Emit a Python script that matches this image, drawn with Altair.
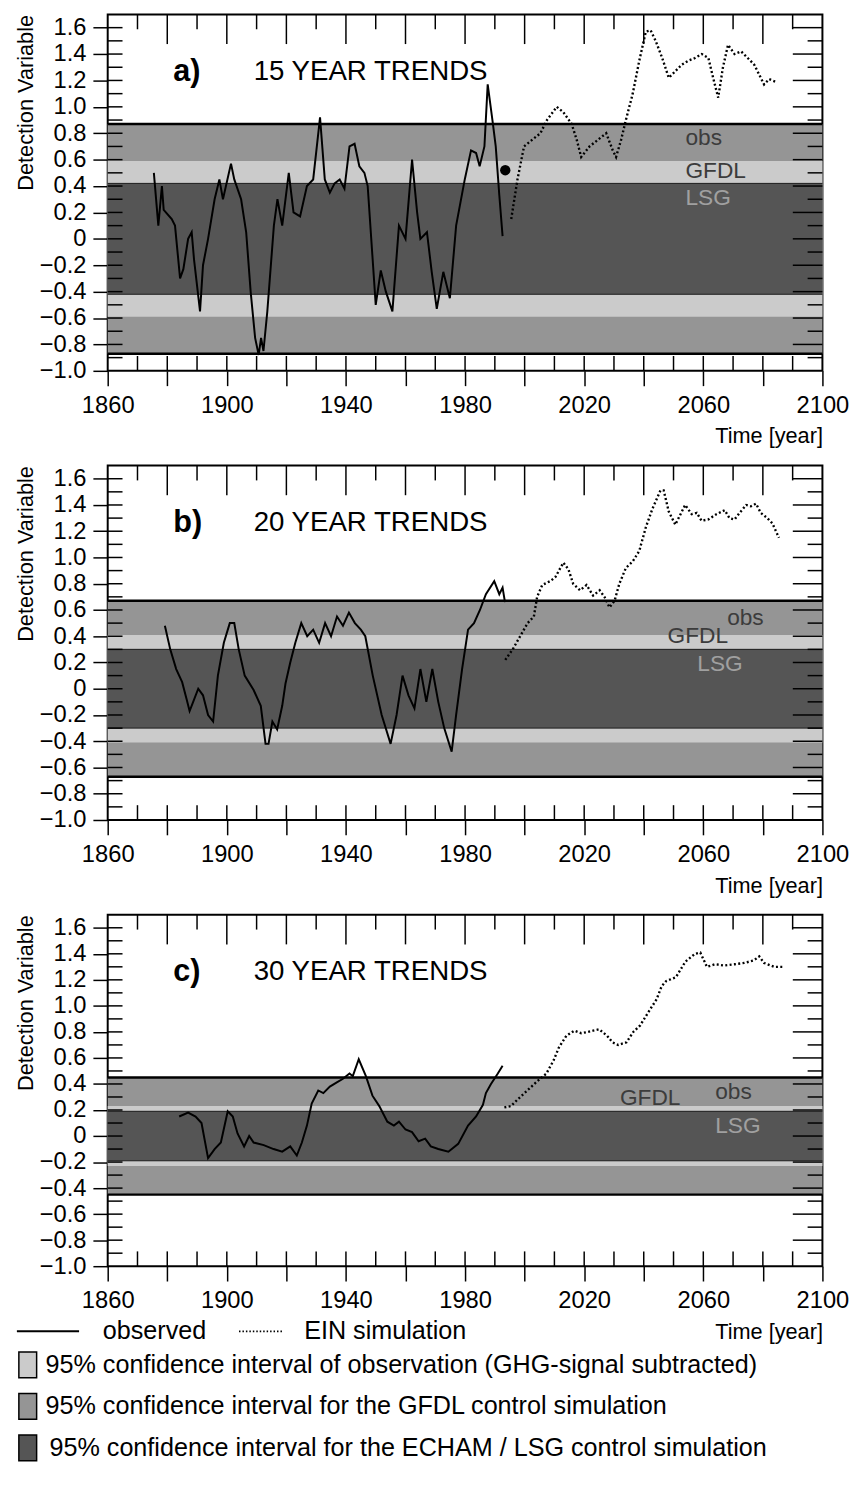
import altair as alt
import pandas as pd

FONT = "Liberation Sans"

# ---------------- data ----------------
A_OBS_YEAR = [1875.5, 1877.0, 1878.2, 1878.8, 1881.5, 1882.6, 1884.3, 1885.4, 1887.0, 1888.2,
              1889.0, 1891.0, 1892.0, 1893.7, 1895.9, 1897.5, 1898.7, 1901.4, 1902.5, 1904.8,
              1906.5, 1908.0, 1909.5, 1910.7, 1911.5, 1912.3, 1913.6, 1915.8, 1917.0, 1918.6,
              1920.8, 1922.4, 1924.6, 1926.9, 1929.0, 1931.3, 1932.9, 1934.6, 1936.2, 1937.9,
              1939.5, 1941.2, 1942.9, 1944.5, 1946.2, 1947.3, 1950.0, 1951.7, 1953.4, 1955.6,
              1957.8, 1960.0, 1962.2, 1963.9, 1965.0, 1967.2, 1968.8, 1970.5, 1972.7, 1974.9,
              1977.0, 1979.9, 1982.0, 1983.7, 1984.9, 1986.5, 1987.6, 1989.3, 1990.3, 1991.5,
              1992.6]
A_OBS_VAL = [0.50, 0.10, 0.40, 0.22, 0.15, 0.10, -0.30, -0.23, 0.00, 0.05,
             -0.16, -0.55, -0.20, 0.00, 0.30, 0.45, 0.30, 0.57, 0.45, 0.30,
             0.05, -0.40, -0.75, -0.88, -0.75, -0.85, -0.55, 0.10, 0.30, 0.10,
             0.50, 0.20, 0.17, 0.40, 0.45, 0.92, 0.45, 0.35, 0.42, 0.45,
             0.38, 0.70, 0.72, 0.55, 0.50, 0.40, -0.50, -0.24, -0.40, -0.55,
             0.10, 0.00, 0.60, 0.20, 0.00, 0.05, -0.25, -0.53, -0.25, -0.45,
             0.10, 0.45, 0.67, 0.65, 0.55, 0.70, 1.17, 0.88, 0.70, 0.33,
             0.02]
A_EIN_YEAR = [1995.5, 1997.6, 1999.8, 2002.5, 2005.3, 2007.5, 2010.8, 2013.0, 2015.8, 2017.5,
              2019.0, 2021.8, 2024.6, 2027.4, 2029.6, 2030.7, 2032.4, 2034.0, 2036.3, 2038.5,
              2040.7, 2042.3, 2044.0, 2046.2, 2048.4, 2050.6, 2052.8, 2055.0, 2057.2, 2059.5,
              2061.7, 2063.3, 2065.0, 2066.6, 2068.3, 2070.5, 2072.7, 2074.9, 2077.1, 2079.3,
              2080.4, 2082.1, 2084.3]
A_EIN_VAL = [0.15, 0.45, 0.70, 0.75, 0.80, 0.90, 1.00, 0.96, 0.87, 0.75,
             0.62, 0.70, 0.75, 0.80, 0.67, 0.62, 0.75, 0.90, 1.10, 1.35,
             1.57, 1.58, 1.50, 1.37, 1.22, 1.27, 1.32, 1.35, 1.37, 1.40,
             1.37, 1.22, 1.07, 1.30, 1.47, 1.40, 1.42, 1.37, 1.32, 1.22,
             1.17, 1.21, 1.19]
A_DOT_YEAR = [1993.5]
A_DOT_VAL = [0.52]

B_OBS_YEAR = [1879.2, 1881.0, 1883.0, 1885.0, 1886.5, 1887.5, 1888.7, 1890.4, 1892.0, 1893.7,
              1895.4, 1897.0, 1899.0, 1901.0, 1902.5, 1904.0, 1906.0, 1909.0, 1911.4, 1913.0,
              1914.0, 1915.3, 1916.9, 1918.6, 1919.7, 1921.3, 1923.0, 1925.0, 1927.0, 1929.0,
              1931.0, 1933.0, 1935.0, 1937.0, 1939.0, 1941.0, 1943.0, 1945.0, 1946.5, 1949.0,
              1952.0, 1955.0, 1957.0, 1959.0, 1961.0, 1963.0, 1965.0, 1967.0, 1969.0, 1971.0,
              1973.0, 1975.5, 1977.0, 1979.0, 1981.0, 1983.0, 1985.0, 1987.0, 1989.8, 1991.5,
              1992.6, 1993.4]
B_OBS_VAL = [0.48, 0.30, 0.15, 0.05, -0.08, -0.17, -0.10, 0.00, -0.05, -0.20,
             -0.25, 0.10, 0.35, 0.50, 0.50, 0.30, 0.10, -0.01, -0.13, -0.42,
             -0.42, -0.25, -0.31, -0.13, 0.04, 0.20, 0.35, 0.50, 0.40, 0.45,
             0.35, 0.50, 0.40, 0.55, 0.48, 0.58, 0.50, 0.45, 0.40, 0.10,
             -0.20, -0.42, -0.20, 0.10, -0.05, -0.15, 0.15, -0.10, 0.15, -0.10,
             -0.30, -0.48, -0.20, 0.15, 0.45, 0.50, 0.60, 0.72, 0.82, 0.72,
             0.77, 0.66]
B_EIN_YEAR = [1993.5, 1996.0, 1998.5, 2001.0, 2003.1, 2004.2, 2005.9, 2008.6, 2010.3, 2013.0,
              2014.7, 2016.3, 2018.6, 2020.8, 2023.0, 2025.2, 2026.8, 2028.5, 2030.2, 2031.8,
              2034.0, 2036.3, 2038.5, 2040.7, 2042.9, 2045.6, 2046.7, 2048.4, 2050.6, 2052.8,
              2053.9, 2056.1, 2057.8, 2059.4, 2061.7, 2064.4, 2067.2, 2068.8, 2070.5, 2072.2,
              2074.4, 2076.0, 2077.7, 2079.3, 2081.5, 2083.2, 2085.4]
B_EIN_VAL = [0.22, 0.30, 0.40, 0.50, 0.55, 0.70, 0.79, 0.82, 0.85, 0.96,
             0.91, 0.80, 0.75, 0.79, 0.71, 0.75, 0.70, 0.62, 0.67, 0.80,
             0.92, 0.97, 1.05, 1.23, 1.37, 1.51, 1.51, 1.35, 1.25, 1.35,
             1.40, 1.33, 1.34, 1.28, 1.29, 1.33, 1.36, 1.30, 1.29, 1.34,
             1.40, 1.39, 1.41, 1.34, 1.30, 1.26, 1.15]

C_OBS_YEAR = [1884.0, 1887.0, 1889.5, 1891.5, 1893.7, 1895.9, 1898.0, 1900.3, 1902.0, 1903.6,
              1905.8, 1907.5, 1909.0, 1912.4, 1915.7, 1918.6, 1921.3, 1923.5, 1925.2, 1926.9,
              1928.5, 1930.7, 1932.4, 1934.6, 1936.8, 1939.0, 1941.2, 1942.3, 1944.3, 1946.7,
              1948.9, 1951.2, 1953.9, 1956.1, 1957.8, 1960.0, 1962.2, 1964.4, 1966.6, 1968.5,
              1971.0, 1974.4, 1977.7, 1981.0, 1983.7, 1986.0, 1987.0, 1988.7, 1991.0, 1992.6]
C_OBS_VAL = [0.15, 0.18, 0.15, 0.10, -0.17, -0.10, -0.05, 0.19, 0.15, 0.02,
             -0.08, 0.00, -0.05, -0.07, -0.10, -0.12, -0.08, -0.15, -0.05, 0.08,
             0.25, 0.35, 0.33, 0.38, 0.41, 0.44, 0.48, 0.46, 0.59, 0.46,
             0.31, 0.23, 0.11, 0.08, 0.11, 0.05, 0.03, -0.04, -0.02, -0.08,
             -0.10, -0.12, -0.06, 0.08, 0.15, 0.24, 0.33, 0.40, 0.48, 0.54]
C_EIN_YEAR = [1993.2, 1995.4, 1997.6, 2000.9, 2004.2, 2007.3, 2009.7, 2011.5, 2014.0, 2016.7,
              2019.0, 2021.3, 2023.0, 2025.0, 2027.7, 2029.5, 2031.4, 2034.2, 2036.5, 2038.8,
              2041.5, 2044.3, 2046.0, 2047.5, 2050.8, 2054.0, 2057.2, 2059.0, 2061.2, 2064.0,
              2067.0, 2070.5, 2073.8, 2077.0, 2078.8, 2080.4, 2083.8, 2087.0]
C_EIN_VAL = [0.22, 0.23, 0.28, 0.35, 0.42, 0.48, 0.58, 0.68, 0.77, 0.81,
             0.79, 0.80, 0.81, 0.82, 0.77, 0.72, 0.70, 0.72, 0.80, 0.85,
             0.95, 1.05, 1.15, 1.19, 1.22, 1.34, 1.40, 1.41, 1.30, 1.32,
             1.31, 1.32, 1.33, 1.35, 1.38, 1.33, 1.30, 1.30]

# confidence bands (half widths): GFDL, obs, LSG
BAND_NAMES = ["GFDL", "obs", "LSG"]
BAND_COLORS = ["#959595", "#cbcbcb", "#555555"]
HALF_A = [0.87, 0.59, 0.42]
HALF_B = [0.67, 0.41, 0.30]
HALF_C = [0.45, 0.23, 0.19]

TAGS = ["a)", "b)", "c)"]
TITLES = ["15 YEAR TRENDS", "20 YEAR TRENDS", "30 YEAR TRENDS"]

# band label positions (year, value) per panel: obs, GFDL, LSG
LAB_TEXT = ["obs", "GFDL", "LSG"]
LAB_A = ([2054, 2054, 2054], [0.76, 0.51, 0.31])
LAB_B = ([2068, 2048, 2058], [0.54, 0.40, 0.19])
LAB_C = ([2064, 2032, 2064], [0.34, 0.29, 0.08])
LAB_COLORS = ["#3c3c3c", "#3c3c3c", "#a0a0a0"]

X_MAJOR = list(range(1860, 2101, 20))
X_TEN = list(range(1870, 2100, 10))
Y_MAJOR = [round(-1.0 + 0.2 * i, 1) for i in range(14)]
Y_TENTH = [round(-0.9 + 0.1 * i, 1) for i in range(26)]

LEGEND_LINES = ["observed", "EIN simulation"]
LEGEND_BOXES = ["95% confidence interval of observation (GHG-signal subtracted)",
                "95% confidence interval for the GFDL control simulation",
                "95% confidence interval for the ECHAM / LSG control simulation"]
LEGEND_BOX_COLORS = ["#cbcbcb", "#959595", "#555555"]

W = 724
XS = alt.Scale(domain=[1860, 2100], nice=False, zero=False)
YS = alt.Scale(domain=[-1.0, 1.7], nice=False, zero=False)

X_AXIS = alt.Axis(values=X_MAJOR, format="d",
                  labelExpr="datum.value % 40 == 20 ? datum.label : ''",
                  tickSize=15, tickWidth=1.5, tickColor="black", domain=False, grid=False,
                  labelFontSize=24, labelColor="black", labelPadding=8, labelFlush=False,
                  labelOverlap=False, title="Time [year]", titleFontSize=22,
                  titleFontWeight="normal", titleColor="black", titleAnchor="end",
                  titlePadding=9)
Y_AXIS = alt.Axis(values=Y_MAJOR,
                  labelExpr="datum.value == 0 ? '0' : format(datum.value, '.1f')",
                  tickSize=15, tickWidth=1.5, tickColor="black", domain=False, grid=False,
                  labelFontSize=24, labelColor="black", labelPadding=7, labelOverlap=False,
                  labelFlush=False,
                  title="Detection Variable", titleFontSize=22, titleFontWeight="normal",
                  titleColor="black", titlePadding=2, titleAnchor="end")


def X(f):
    return alt.X(f, type="quantitative", scale=XS, axis=X_AXIS)


def Y(f):
    return alt.Y(f, type="quantitative", scale=YS, axis=Y_AXIS)


def panel(H, half, obs_y, obs_v, ein_y, ein_v, tag, title, lab, extra=None):
    layers = []
    for col, h in zip(BAND_COLORS, half):
        df = pd.DataFrame({"lo": [-h], "hi": [h]})
        layers.append(alt.Chart(df).mark_rect(color=col).encode(
            x=alt.value(0), x2=alt.value(W), y=Y("lo"), y2=alt.Y2("hi")))
    edges = pd.DataFrame({"v": [half[0], -half[0]]})
    layers.append(alt.Chart(edges).mark_rule(color="black", strokeWidth=2.5).encode(
        y=Y("v"), x=alt.value(0), x2=alt.value(W)))
    edges2 = pd.DataFrame({"v": [half[2], -half[2]]})
    layers.append(alt.Chart(edges2).mark_rule(color="#1a1a1a", strokeWidth=1).encode(
        y=Y("v"), x=alt.value(0), x2=alt.value(W)))
    # band labels
    ldf = pd.DataFrame({"year": lab[0], "v": lab[1], "t": LAB_TEXT, "c": LAB_COLORS})
    layers.append(alt.Chart(ldf).mark_text(align="left", baseline="middle", fontSize=23).encode(
        x=X("year"), y=Y("v"), text="t:N", color=alt.Color("c:N", scale=None)))
    # lines
    odf = pd.DataFrame({"year": obs_y, "v": obs_v})
    layers.append(alt.Chart(odf).mark_line(color="black", strokeWidth=2).encode(
        x=X("year"), y=Y("v")))
    edf = pd.DataFrame({"year": ein_y, "v": ein_v})
    layers.append(alt.Chart(edf).mark_line(color="black", strokeWidth=2.4,
                                           strokeDash=[2, 2.4]).encode(x=X("year"), y=Y("v")))
    if extra is not None:
        layers.extend(extra)
    # titles
    tdf = pd.DataFrame({"year": [1882.0], "v": [1.26], "t": [tag]})
    layers.append(alt.Chart(tdf).mark_text(align="left", baseline="middle", fontSize=31,
                                           fontWeight="bold").encode(
        x=X("year"), y=Y("v"), text="t:N"))
    tdf2 = pd.DataFrame({"year": [1909.0], "v": [1.26], "t": [title]})
    layers.append(alt.Chart(tdf2).mark_text(align="left", baseline="middle", fontSize=28).encode(
        x=X("year"), y=Y("v"), text="t:N"))
    # inward ticks
    top_long = pd.DataFrame({"year": [y for y in X_TEN if y % 20 == 0]})
    top_short = pd.DataFrame({"year": [y for y in X_TEN if y % 20 == 10]})
    layers.append(alt.Chart(top_long).mark_rule(color="black", strokeWidth=1.5).encode(
        x=X("year"), y=alt.value(0), y2=alt.value(30)))
    layers.append(alt.Chart(top_short).mark_rule(color="black", strokeWidth=1.5).encode(
        x=X("year"), y=alt.value(0), y2=alt.value(15)))
    bot = pd.DataFrame({"year": X_TEN})
    layers.append(alt.Chart(bot).mark_rule(color="black", strokeWidth=1.5).encode(
        x=X("year"), y=alt.value(H), y2=alt.value(H - 15)))
    left = pd.DataFrame({"v": Y_TENTH})
    layers.append(alt.Chart(left).mark_rule(color="black", strokeWidth=1.5).encode(
        y=Y("v"), x=alt.value(0), x2=alt.value(15)))
    r_long = pd.DataFrame({"v": [v for v in Y_TENTH if round(v * 10) % 2 == 0]})
    r_short = pd.DataFrame({"v": [v for v in Y_TENTH if round(v * 10) % 2 != 0]})
    layers.append(alt.Chart(r_long).mark_rule(color="black", strokeWidth=1.5).encode(
        y=Y("v"), x=alt.value(W - 30), x2=alt.value(W)))
    layers.append(alt.Chart(r_short).mark_rule(color="black", strokeWidth=1.5).encode(
        y=Y("v"), x=alt.value(W - 15), x2=alt.value(W)))
    return alt.layer(*layers).properties(width=W, height=H)


# extra: marker in panel a
dot = alt.Chart(pd.DataFrame({"year": A_DOT_YEAR, "v": A_DOT_VAL})).mark_circle(
    color="black", size=110, opacity=1).encode(x=X("year"), y=Y("v"))

# legend drawn under panel c (pixel positions relative to panel c plot origin)
PC_TOP = 913
OX = 105


def lg_line(x0, x1, yy, dash=None):
    kw = dict(color="black", strokeWidth=2)
    if dash:
        kw["strokeDash"] = dash
        kw["strokeWidth"] = 1.6
    return alt.Chart(pd.DataFrame({"k": [0]})).mark_rule(**kw).encode(
        x=alt.value(x0 - OX), x2=alt.value(x1 - OX), y=alt.value(yy - PC_TOP))


def lg_text(x0, yy, t):
    return alt.Chart(pd.DataFrame({"t": [t]})).mark_text(
        align="left", baseline="middle", fontSize=25.5, color="black").encode(
        x=alt.value(x0 - OX), y=alt.value(yy - PC_TOP), text="t:N")


def lg_box(x0, yy, col):
    return alt.Chart(pd.DataFrame({"k": [0]})).mark_rect(
        color=col, stroke="black", strokeWidth=1.5).encode(
        x=alt.value(x0 - OX), x2=alt.value(x0 - OX + 18),
        y=alt.value(yy - PC_TOP - 13), y2=alt.value(yy - PC_TOP + 13))


legend_layers = [
    lg_line(13, 76, 1335), lg_text(100, 1335, LEGEND_LINES[0]),
    lg_line(238, 282, 1335, dash=[1.5, 2]), lg_text(304, 1335, LEGEND_LINES[1]),
]
for i, (t, col) in enumerate(zip(LEGEND_BOXES, LEGEND_BOX_COLORS)):
    yy = 1369 + 42 * i
    legend_layers.append(lg_box(15, yy, col))
    legend_layers.append(lg_text(42 + (4 if i == 2 else 0), yy, t))

pa = panel(361, HALF_A, A_OBS_YEAR, A_OBS_VAL, A_EIN_YEAR, A_EIN_VAL, TAGS[0], TITLES[0],
           LAB_A, extra=[dot])
pb = panel(359, HALF_B, B_OBS_YEAR, B_OBS_VAL, B_EIN_YEAR, B_EIN_VAL, TAGS[1], TITLES[1],
           LAB_B)
pc = panel(356, HALF_C, C_OBS_YEAR, C_OBS_VAL, C_EIN_YEAR, C_EIN_VAL, TAGS[2], TITLES[2],
           LAB_C, extra=legend_layers)

chart = alt.vconcat(pa, pb, pc, spacing=16).properties(
    padding={"left": 5, "top": -5, "right": 5, "bottom": 5}
).configure(font=FONT).configure_view(stroke="black", strokeWidth=2)

chart.save("out.html", embed_options={"renderer": "svg", "actions": False})
